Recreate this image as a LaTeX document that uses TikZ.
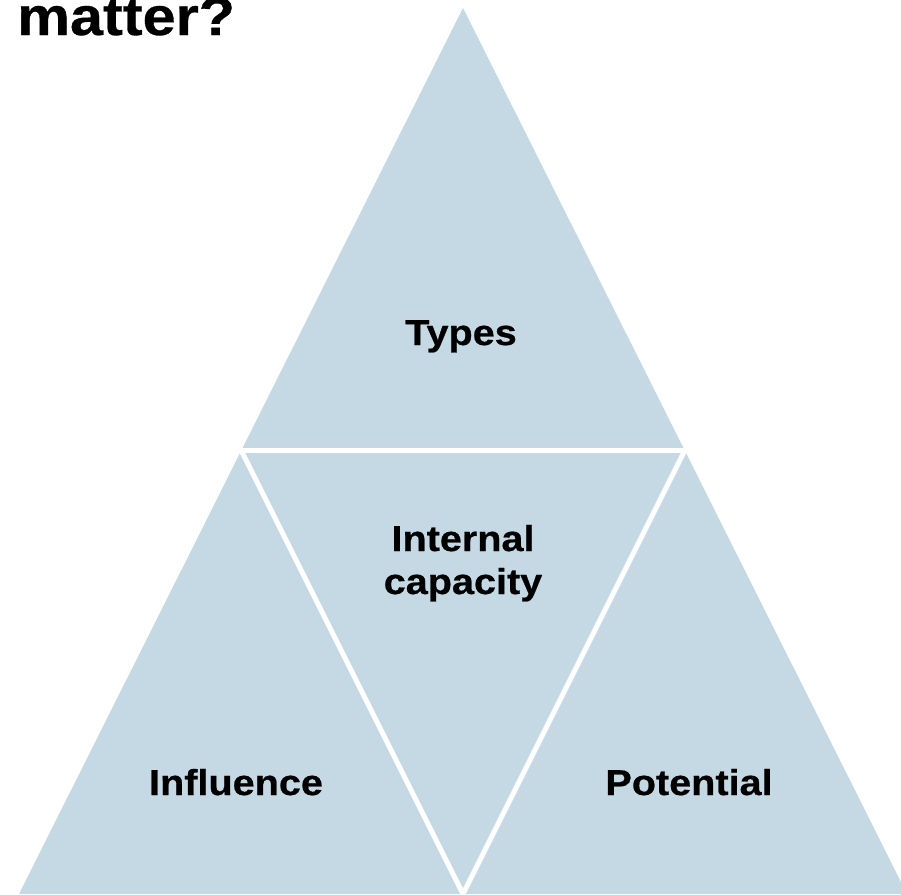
\documentclass[tikz,border=0pt]{standalone}
\usepackage{fontspec}
\usetikzlibrary{calc}
\setmainfont{Liberation Sans}
\newfontfamily\labelfont[FakeStretch=1.1,BoldFeatures={FakeBold=0.6}]{Liberation Sans}
\definecolor{panel}{RGB}{197,217,228}
\tikzset{
  lbl/.style={font=\labelfont\bfseries\fontsize{36}{43}\selectfont, text=black, inner sep=0pt, align=center, anchor=base},
  divider/.style={draw=white, line width=5pt}
}
\begin{document}
\begin{tikzpicture}[x=1pt,y=-1pt]
  \useasboundingbox (0,0) rectangle (901,894);
  \begin{scope}
    \clip (0,0) rectangle (901,894);
    % outer triangle
    \coordinate (apex) at (463,8);
    \coordinate (bl) at (19,894);
    \coordinate (br) at (907,894);
    \fill[panel] (apex) -- (bl) -- (br) -- cycle;
    % white dividers between the four parts
    \coordinate (ml) at (241,450);
    \coordinate (mr) at (685,450);
    \coordinate (mb) at (463,894);
    \begin{scope}
      \clip (apex) -- (bl) -- (br) -- cycle;
      \draw[divider] ([xshift=-10pt]ml) -- ([xshift=10pt]mr);
      \draw[divider] ($(ml)!-0.05!(mb)$) -- ($(mb)!-0.05!(ml)$);
      \draw[divider] ($(mr)!-0.05!(mb)$) -- ($(mb)!-0.05!(mr)$);
    \end{scope}
  \end{scope}
  % heading
  \node[font=\labelfont\bfseries\fontsize{54}{60}\selectfont, inner sep=0pt, anchor=base west] (head) at (17,35) {matter?};
  % labels
  \node[lbl] (types) at (461,345) {Types};
  \node[lbl] (internal) at (463,594) {Internal\\capacity};
  \node[lbl] (influence) at (236,795) {Influence};
  \node[lbl] (potential) at (689,795) {Potential};
\end{tikzpicture}
\end{document}
